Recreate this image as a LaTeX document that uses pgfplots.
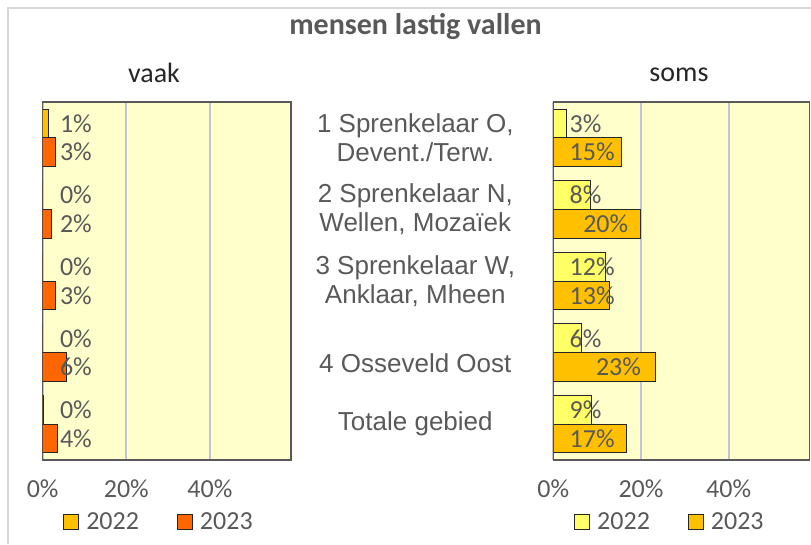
\documentclass[border=0pt]{standalone}
\usepackage{pgfplots}
\pgfplotsset{compat=1.18}
\usepackage{fontspec}
\setmainfont{Carlito}
\newfontfamily\arialf{Liberation Sans}
\definecolor{txtgray}{HTML}{595959}
\definecolor{framec}{HTML}{595959}
\definecolor{bg}{HTML}{FFFFCC}
\definecolor{gold}{HTML}{FFC000}
\definecolor{orng}{HTML}{FF6600}
\definecolor{lyel}{HTML}{FFFF66}
\definecolor{gridc}{HTML}{C4C4D4}
\definecolor{outerc}{HTML}{D9D9D9}
\definecolor{edgec}{HTML}{262626}

\pgfplotstableread{
c v22 v23
4 1.4 3.1
3 0 2.1
2 0 3.0
1 0 5.8
0 0.2 3.6
}\vaak
\pgfplotstableread{
c v22 v23
4 3.1 15.5
3 8.5 19.9
2 12.0 12.9
1 6.4 23.2
0 8.7 16.7
}\soms
\pgfplotstableread{
x y lab
4.1 4.2 1
4.1 3.8 3
4.1 3.2 0
4.1 2.8 2
4.1 2.2 0
4.1 1.8 3
4.1 1.2 0
4.1 0.8 6
4.1 0.2 0
4.1 -0.2 4
}\vaaklab
\pgfplotstableread{
x y lab
3.7 4.2 3
3.7 3.8 15
3.7 3.2 8
6.8 2.8 20
3.7 2.2 12
3.7 1.8 13
3.7 1.2 6
9.7 0.8 23
3.7 0.2 9
3.7 -0.2 17
}\somslab

\pgfplotsset{
 panel/.style={
   scale only axis, height=358pt, anchor=south west,
   xmin=0, ymin=-0.5, ymax=4.5,
   axis background/.style={fill=bg},
   axis line style={framec, line width=1.5pt},
   xtick={0,20,40}, xticklabels={0\%,20\%,40\%},
   xticklabel style={font=\fontsize{26}{30}\selectfont, text=txtgray, inner sep=0pt, anchor=north, yshift=-20pt},
   major tick length=0pt,
   xmajorgrids, grid style={gridc, line width=2pt},
   ytick=\empty,
   legend columns=2,
   legend style={draw=none, fill=none, inner sep=0pt, font=\fontsize{26}{30}\selectfont, text=txtgray, anchor=west,
     /tikz/every odd column/.append style={column sep=5pt},
     /tikz/every even column/.append style={column sep=36pt}},
 },
 sq/.style={legend image code/.code={\draw[##1, line width=1pt] (0pt,-7.5pt) rectangle (15pt,7.5pt);}},
 bars/.style={xbar, bar width=0.4, draw=edgec, line width=1pt, sq},
 lbl/.style={draw=none, mark=none, forget plot, nodes near coords={\pgfplotspointmeta\%}, point meta=explicit symbolic, nodes near coords style={anchor=west, inner sep=0pt, font=\fontsize{26}{30}\selectfont, text=txtgray}},
}

\begin{document}
\begin{tikzpicture}
\path[use as bounding box] (0pt,0pt) rectangle (811pt,544pt);
\draw[outerc, line width=2pt] (8pt,0pt) -- (8pt,536pt) -- (811pt,536pt);
\node[anchor=base, font=\bfseries\fontsize{30}{36}\selectfont, text=txtgray] at (415.5pt,509pt) {mensen lastig vallen};
\node[anchor=base, font=\fontsize{28}{32}\selectfont, text=black!85] at (154pt,461pt) {vaak};
\node[anchor=base, font=\fontsize{28}{32}\selectfont, text=black!85] at (679pt,462pt) {soms};

\begin{axis}[panel, at={(42.7pt,84pt)}, width=248.3pt, xmax=59.4,
  legend style={at={(0.082,-0.173)}}]
\addplot[bars, fill=gold, bar shift=0.2] table[x=v22, y=c] {\vaak};
\addlegendentry{2022}
\addplot[bars, fill=orng, bar shift=-0.2] table[x=v23, y=c] {\vaak};
\addlegendentry{2023}
\addplot[lbl] table[x=x, y=y, meta=lab] {\vaaklab};
\end{axis}

\begin{axis}[panel, at={(553.3pt,84pt)}, width=256pt, xmax=58.4,
  legend style={at={(0.081,-0.173)}},
  ytick={0,1,2,3,4},
  yticklabels={Totale gebied, {\raisebox{-10pt}[19pt][0pt]{4 Osseveld Oost}}, {3 Sprenkelaar W,\\Anklaar, Mheen}, {2 Sprenkelaar N,\\Wellen, Mozaïek}, {1 Sprenkelaar O,\\Devent./Terw.}},
  yticklabel style={font=\arialf\fontsize{26}{29.5}\selectfont, text=txtgray, align=center, anchor=center, inner sep=0pt, xshift=-138pt}]
\addplot[bars, fill=lyel, bar shift=0.2] table[x=v22, y=c] {\soms};
\addlegendentry{2022}
\addplot[bars, fill=gold, bar shift=-0.2] table[x=v23, y=c] {\soms};
\addlegendentry{2023}
\addplot[lbl] table[x=x, y=y, meta=lab] {\somslab};
\end{axis}
\end{tikzpicture}
\end{document}
